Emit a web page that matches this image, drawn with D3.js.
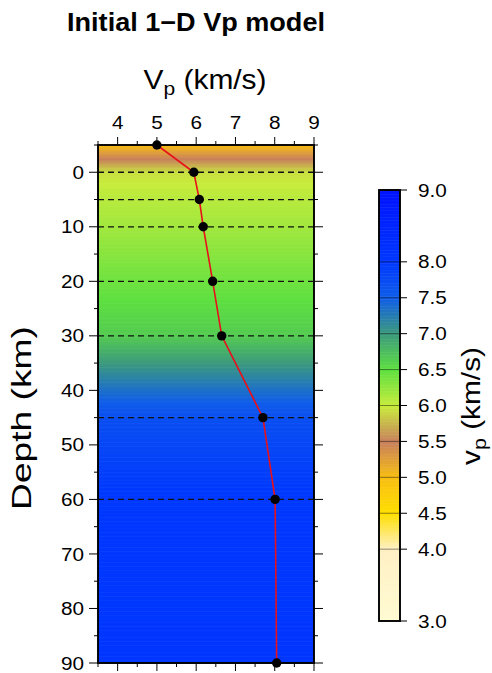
<!DOCTYPE html>
<html><head><meta charset="utf-8">
<script src="https://cdn.jsdelivr.net/npm/d3@7"></script>
<style>html,body{margin:0;padding:0;background:#fff;}svg{display:block;font-family:"Liberation Sans",Arial,Helvetica,sans-serif;}</style>
</head><body><svg id="chart" width="492" height="673"></svg>
<script>
// ---- data ----
const vpTicks = [4, 5, 6, 7, 8, 9];
const depthTicks = [0, 10, 20, 30, 40, 50, 60, 70, 80, 90];
const profileDepth = [-5, 0, 5, 10, 20, 30, 45, 60, 90];
const profileVp = [5.0, 5.94, 6.08, 6.18, 6.42, 6.65, 7.70, 8.01, 8.05];
const interfaceDepths = [0, 5, 10, 20, 30, 45, 60];
const cbTicks = [3.0, 4.0, 4.5, 5.0, 5.5, 6.0, 6.5, 7.0, 7.5, 8.0, 9.0];
const cptValues = [3.0, 4.0, 4.5, 5.0, 5.5, 6.0, 6.5, 7.0, 7.5, 8.0, 9.0];
const cptColors = ["#fffbd2", "#fff0c4", "#ffdf00", "#f8be12", "#c8805c", "#c8ec3c", "#5ee040", "#3c9a7c", "#105ee8", "#0038ff", "#0012ff"];

const svg = d3.select("#chart");
const plot = {l: 98, r: 314, t: 145, b: 663};
const x = d3.scaleLinear().domain([3.5, 9]).range([plot.l, plot.r]);
const y = d3.scaleLinear().domain([-5, 90]).range([plot.t, plot.b]);
const color = d3.scaleLinear().domain(cptValues).range(cptColors).interpolate(d3.interpolateRgb).clamp(true);
const vpAt = d3.scaleLinear().domain(profileDepth).range(profileVp);

// background model colouring
const step = 0.25;
const rows = d3.range(-5, 90, step);
svg.append("g").selectAll("rect").data(rows).join("rect")
  .attr("x", plot.l).attr("width", plot.r - plot.l)
  .attr("y", d => y(d)).attr("height", d => y(d + step) - y(d) + 0.6)
  .attr("fill", d => color(vpAt(d + step / 2)));

// interface dashed lines
svg.append("g").selectAll("line").data(interfaceDepths).join("line")
  .attr("x1", plot.l).attr("x2", plot.r)
  .attr("y1", d => y(d)).attr("y2", d => y(d))
  .attr("stroke", "#111").attr("stroke-width", 1.3).attr("stroke-dasharray", "6,4");

// profile
const pts = profileDepth.map((d, i) => [profileVp[i], d]);
svg.append("path").datum(pts)
  .attr("d", d3.line().x(d => x(d[0])).y(d => y(d[1])))
  .attr("fill", "none").attr("stroke", "#e8101a").attr("stroke-width", 1.6);
svg.append("g").selectAll("circle").data(pts).join("circle")
  .attr("cx", d => x(d[0])).attr("cy", d => y(d[1])).attr("r", 4.7).attr("fill", "#000");

// axes
const majorLen = 8, minorLen = 4;
const xMinor = d3.range(3.5, 9.01, 0.5).filter(v => !vpTicks.includes(v));
const yMinor = d3.range(-5, 90.01, 5).filter(v => !depthTicks.includes(v));
const axG = svg.append("g").attr("stroke", "#000").attr("stroke-width", 1);
function hticks(vals, len) {
  vals.forEach(v => {
    axG.append("line").attr("x1", x(v)).attr("x2", x(v)).attr("y1", plot.t).attr("y2", plot.t - len);
    axG.append("line").attr("x1", x(v)).attr("x2", x(v)).attr("y1", plot.b).attr("y2", plot.b + len);
  });
}
function vticks(vals, len) {
  vals.forEach(v => {
    axG.append("line").attr("y1", y(v)).attr("y2", y(v)).attr("x1", plot.l).attr("x2", plot.l - len);
    axG.append("line").attr("y1", y(v)).attr("y2", y(v)).attr("x1", plot.r).attr("x2", plot.r + len);
  });
}
hticks(vpTicks, majorLen); hticks(xMinor, minorLen);
vticks(depthTicks, majorLen + 1); vticks(yMinor, minorLen);
svg.append("rect").attr("x", plot.l).attr("y", plot.t).attr("width", plot.r - plot.l).attr("height", plot.b - plot.t)
  .attr("fill", "none").attr("stroke", "#000").attr("stroke-width", 1.9);

const tickFont = 18.5, tickScale = 1.12;
function label(txt, px, py, anchor) {
  const g = svg.append("g").attr("transform", `translate(${px},${py})`);
  g.append("text").attr("text-anchor", anchor).attr("dominant-baseline", "central")
    .attr("font-size", tickFont).attr("fill", "#000").attr("transform", `scale(${tickScale},1)`).text(txt);
}
vpTicks.forEach(v => label(String(v), x(v), 122, "middle"));
depthTicks.forEach(v => label(String(v), 84, y(v), "end"));

// titles helper: fit text to target length along baseline
function fitted(cx, cy, rot, size, weight, target, build) {
  const g = svg.append("g").attr("transform", `translate(${cx},${cy}) rotate(${rot})`);
  const t = g.append("text").attr("text-anchor", "middle").attr("font-size", size).attr("font-weight", weight).attr("fill", "#000");
  build(t);
  const w = t.node().getBBox().width;
  t.attr("transform", `scale(${target / w},1)`);
  return t;
}
fitted(196, 31, 0, 25, "bold", 258, t => t.text("Initial 1\u2212D Vp model"));
fitted(205, 89, 0, 27, "normal", 123, t => {
  t.append("tspan").text("V");
  t.append("tspan").attr("font-size", 19).attr("dy", 6).text("p");
  t.append("tspan").attr("dy", -6).text(" (km/s)");
});
fitted(31, 418, -90, 28, "normal", 184, t => t.text("Depth (km)"));

// colorbar
const cb = {l: 379, r: 400, t: 190, b: 621};
const cy = d3.scaleLinear().domain([3, 9]).range([cb.b, cb.t]);
const cbStep = 0.02;
svg.append("g").selectAll("rect").data(d3.range(3, 9, cbStep)).join("rect")
  .attr("x", cb.l).attr("width", cb.r - cb.l)
  .attr("y", d => cy(d + cbStep)).attr("height", d => cy(d) - cy(d + cbStep) + 0.5)
  .attr("fill", d => color(d + cbStep / 2));
svg.append("g").selectAll("line").data(cptValues.slice(1, -1)).join("line")
  .attr("x1", cb.l).attr("x2", cb.r).attr("y1", d => cy(d)).attr("y2", d => cy(d))
  .attr("stroke", "rgba(0,0,0,0.45)").attr("stroke-width", 1);
svg.append("rect").attr("x", cb.l).attr("y", cb.t).attr("width", cb.r - cb.l).attr("height", cb.b - cb.t)
  .attr("fill", "none").attr("stroke", "#000").attr("stroke-width", 1.9);
svg.append("g").selectAll("line").data(cbTicks).join("line")
  .attr("x1", cb.r).attr("x2", cb.r + 7).attr("y1", d => cy(d)).attr("y2", d => cy(d))
  .attr("stroke", "#000").attr("stroke-width", 1);
cbTicks.forEach(v => label(v.toFixed(1), 418, cy(v), "start"));
fitted(480, 406, -90, 25, "normal", 118, t => {
  t.append("tspan").text("v");
  t.append("tspan").attr("font-size", 18).attr("dy", 6).text("p");
  t.append("tspan").attr("dy", -6).text(" (km/s)");
});
</script></body></html>
